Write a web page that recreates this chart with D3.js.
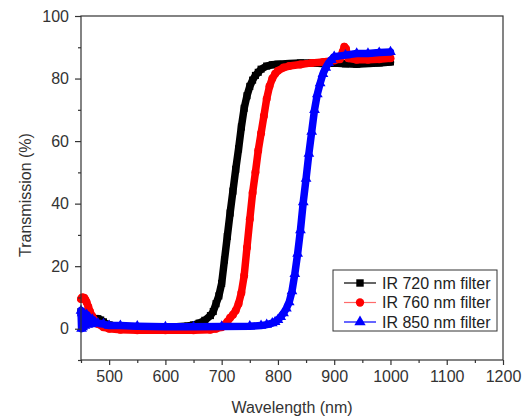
<!DOCTYPE html>
<html><head><meta charset="utf-8">
<script src="https://cdn.jsdelivr.net/npm/d3@7"></script>
<style>body{margin:0;background:#fff}svg{display:block}text{font-family:"Liberation Sans",Arial,sans-serif}</style>
</head><body><svg id="c" width="526" height="416"></svg>
<script>
const seriesNames = ["IR 720 nm filter", "IR 760 nm filter", "IR 850 nm filter"];
const xTicks = [500, 600, 700, 800, 900, 1000, 1100, 1200];
const yTicks = [0, 20, 40, 60, 80, 100];

const wl720 = [450,453,456,460,465,470,475,480,485,490,495,500,510,520,540,560,580,600,620,640,650,660,670,680,685,690,695,700,705,710,715,720,725,730,735,740,745,750,755,760,765,770,780,790,800,820,840,860,880,900,920,940,960,980,1000];
const t720  = [5.5,4.5,5,4,4.2,3.5,3.3,3.2,2.8,2.2,1.5,1.2,0.9,0.7,0.6,0.5,0.5,0.5,0.6,0.9,1.2,1.8,2.7,4.2,5.5,8,10.5,14.5,22,29.5,37,44,51,57.5,64.5,70.5,74.5,77.5,79.5,81,82,83,84,84.4,84.6,84.8,85,85,84.8,85,84.7,84.6,84.8,85,85.3];

const wl760 = [450,452,454,456,458,460,463,466,470,475,480,490,500,520,550,600,650,680,690,700,705,710,715,720,725,730,735,740,745,750,755,760,765,770,775,780,785,790,795,800,810,820,840,860,880,900,910,915,918,921,925,940,960,980,1000];
const t760  = [9.5,10,10,9.8,9.2,8.5,7,5.5,4,2.5,1.5,0.5,0,-0.3,-0.5,-0.5,-0.5,-0.3,0,0.5,1.2,2.2,3.5,4.5,5.8,8,11.5,17,26,35,43.5,50,57,62.5,68,73.5,77.5,80,81.5,82.5,83.5,84,84.5,85,85.3,85.8,86.2,88.5,90.2,89.5,86.5,86,86,86.2,86.5];

const wl850 = [450,451,452,453,455,457,458,460,462,465,468,470,475,480,490,500,520,550,600,650,700,750,770,780,790,795,800,805,810,815,820,825,830,835,840,845,850,855,860,865,870,875,880,885,890,895,900,920,940,960,980,1000];
const t850  = [5.8,0,5,0.5,4.8,1,4,4.5,1.5,3.5,1.5,3,2,1.8,1.5,1,1,0.8,0.6,0.6,0.7,0.8,1,1.3,1.8,2.2,2.8,3.8,5,6.5,8.5,12,17.5,24,31.5,40.5,48,56,63,70,75,78.5,81.5,83.5,85,86,87,87.5,88,88,88.3,88.5];

const colors = ["#000000", "#ff0000", "#0000ff"];
const legendLineColors = ["#000000", "#ff6a6a", "#0000ff"];

const series = [
  {name: seriesNames[0], x: wl720, y: t720, color: colors[0], sym: d3.symbolSquare},
  {name: seriesNames[1], x: wl760, y: t760, color: colors[1], sym: d3.symbolCircle},
  {name: seriesNames[2], x: wl850, y: t850, color: colors[2], sym: d3.symbolTriangle}
];

const svg = d3.select("#c");
const L = 81, R = 503, T = 16, B = 360;
const x = d3.scaleLinear().domain([450, 1200]).range([L, R]);
const y = d3.scaleLinear().domain([-10, 100]).range([B, T]);

const axisColor = "#333";
const g = svg.append("g");

const line = d3.line().x(d=>d[0]).y(d=>d[1]);
series.forEach(s => {
  const pts = s.x.map((v,i)=>[x(v), y(s.y[i])]);
  g.append("path").attr("d", line(pts)).attr("fill","none").attr("stroke", s.color)
    .attr("stroke-width", 7.5).attr("stroke-linejoin","round").attr("stroke-linecap","round");
  g.selectAll(null).data(pts).enter().append("path")
    .attr("d", d3.symbol().type(s.sym).size(50)())
    .attr("transform", d=>`translate(${d[0]},${d[1]})`)
    .attr("fill", s.color);
});

svg.append("rect").attr("x", L).attr("y", T).attr("width", R-L).attr("height", B-T)
  .attr("fill","none").attr("stroke", axisColor).attr("stroke-width", 1.2);

const xAxis = d3.axisBottom(x).tickValues(xTicks).tickSize(5).tickPadding(6).tickFormat(d3.format("d"));
const xa = svg.append("g").attr("transform", `translate(0,${B})`).call(xAxis);
const xMinor = d3.axisBottom(x).tickValues([450,550,650,750,850,950,1050,1150]).tickSize(3).tickFormat("");
const xm = svg.append("g").attr("transform", `translate(0,${B})`).call(xMinor);

const yAxis = d3.axisLeft(y).tickValues(yTicks).tickSize(6).tickPadding(6);
const ya = svg.append("g").attr("transform", `translate(${L},0)`).call(yAxis);
const yMinor = d3.axisLeft(y).tickValues([-10,10,30,50,70,90]).tickSize(3).tickFormat("");
const ym = svg.append("g").attr("transform", `translate(${L},0)`).call(yMinor);

[xa, xm, ya, ym].forEach(a => {
  a.select(".domain").remove();
  a.selectAll("line").attr("stroke", axisColor).attr("stroke-width", 1.2);
  a.selectAll("text").attr("fill", "#333").style("font-size", "16px").style("font-family", '"Liberation Sans", Arial, sans-serif');
});

svg.append("text").attr("x", (L+R)/2).attr("y", 413).attr("text-anchor","middle")
  .attr("fill","#333").style("font-size","16px").text("Wavelength (nm)");
svg.append("text").attr("transform", `translate(31,195) rotate(-90)`).attr("text-anchor","middle")
  .attr("fill","#333").style("font-size","16px").text("Transmission (%)");

const lg = svg.append("g");
lg.append("rect").attr("x", 333).attr("y", 270).attr("width", 164).attr("height", 61)
  .attr("fill","#fff").attr("stroke", axisColor).attr("stroke-width", 1);
series.forEach((s, i) => {
  const cy = 283 + i * 19.5;
  lg.append("line").attr("x1", 344).attr("x2", 376).attr("y1", cy).attr("y2", cy)
    .attr("stroke", legendLineColors[i]).attr("stroke-width", 1.2);
  lg.append("path").attr("d", d3.symbol().type(s.sym).size(55)())
    .attr("transform", `translate(360,${cy})`).attr("fill", s.color);
  lg.append("text").attr("x", 382).attr("y", cy).attr("dy", "0.36em")
    .attr("fill","#222").style("font-size","16px").text(s.name);
});
</script></body></html>
